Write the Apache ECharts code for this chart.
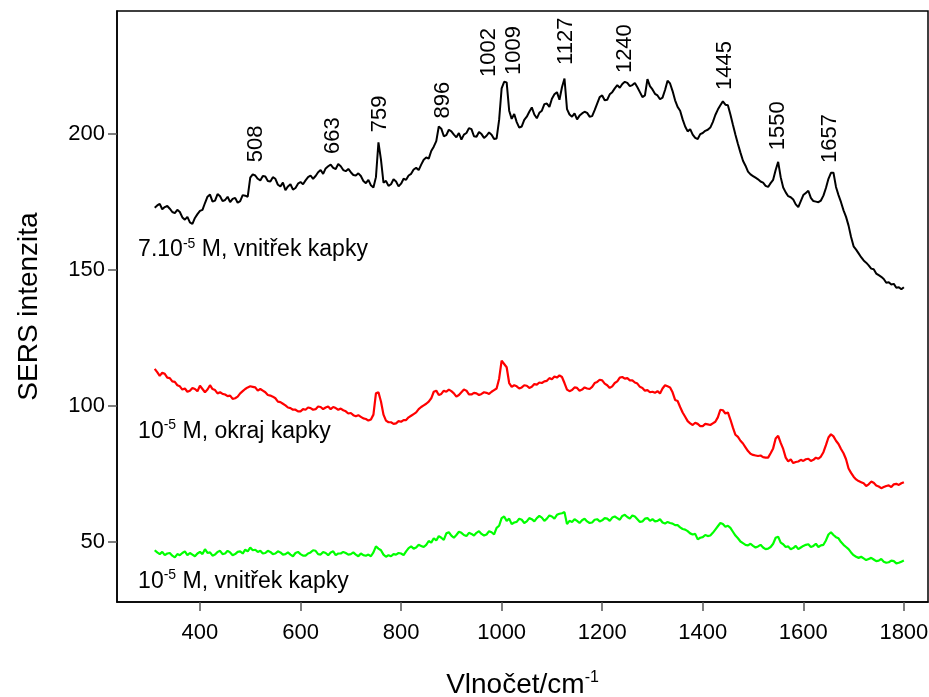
<!DOCTYPE html>
<html>
<head>
<meta charset="utf-8">
<title>SERS spektra</title>
<script src="https://cdn.jsdelivr.net/npm/echarts@6/dist/echarts.min.js"></script>
<style>
  html,body{margin:0;padding:0;background:#fff;}
  #main{width:929px;height:697px;}
</style>
</head>
<body>
<div id="main"></div>
<script>
// spektra odečtená po 5 cm-1 od 310 do 1800
var startWave = 310, stepWave = 5;

var blackInner = [
  172.8, 173.6, 174.2, 172.2, 173.0, 173.4, 172.4, 171.2, 170.8, 172.0, 171.2, 169.2, 168.4, 169.4, 167.4, 166.8, 169.0, 170.4, 171.6, 172.0,
  174.5, 176.8, 177.6, 175.0, 175.4, 177.8, 177.0, 175.2, 175.6, 176.8, 174.8, 176.0, 176.4, 174.6, 175.2, 177.4, 177.2, 176.8, 183.8, 185.0,
  184.6, 183.4, 182.8, 184.4, 184.2, 182.6, 182.4, 184.0, 183.4, 181.2, 180.6, 182.0, 179.2, 180.6, 181.4, 179.4, 180.0, 181.6, 182.2, 181.4,
  182.8, 184.0, 184.6, 183.4, 184.4, 185.8, 186.6, 185.2, 187.2, 188.0, 188.6, 187.4, 187.0, 188.8, 188.0, 186.6, 186.2, 187.0, 185.8, 184.8,
  184.6, 185.4, 184.4, 182.6, 181.8, 183.0, 181.0, 180.2, 184.0, 196.8, 190.4, 182.0, 182.6, 180.8, 181.4, 183.2, 182.4, 180.6, 181.6, 183.4,
  183.0, 184.6, 185.2, 186.8, 187.4, 186.6, 188.6, 190.4, 191.2, 190.8, 193.6, 195.2, 197.2, 202.6, 201.8, 199.0, 199.4, 201.4, 200.8, 199.6,
  198.6, 200.2, 197.8, 199.6, 200.2, 202.0, 201.6, 199.0, 198.8, 200.6, 199.8, 198.4, 199.2, 200.4, 199.6, 198.0, 198.2, 205.0, 216.6, 219.0,
  218.8, 208.4, 205.4, 207.2, 204.2, 202.2, 202.6, 205.0, 206.2, 208.0, 209.6, 207.0, 205.6, 207.6, 208.4, 210.8, 211.0, 209.8, 212.8, 214.4,
  215.2, 212.4, 217.0, 220.2, 209.0, 207.0, 206.2, 207.4, 205.2, 206.6, 207.4, 208.0, 207.6, 206.2, 206.4, 208.6, 211.0, 213.4, 214.0, 212.2,
  212.4, 214.4, 215.2, 216.6, 217.8, 216.8, 218.2, 219.0, 218.6, 217.4, 217.8, 218.6, 217.0, 215.2, 213.4, 214.0, 220.0, 217.4, 216.2, 214.6,
  214.0, 212.6, 213.2, 216.0, 219.4, 218.4, 215.6, 212.2, 209.8, 208.4, 205.2, 202.6, 200.8, 201.6, 199.6, 198.4, 198.0, 199.8, 200.2, 201.0,
  201.4, 202.2, 204.2, 206.8, 208.8, 210.4, 211.8, 210.6, 210.4, 207.0, 203.2, 199.6, 196.2, 193.0, 190.0, 188.2, 186.0, 185.0, 184.4, 183.8,
  183.2, 182.4, 182.0, 180.8, 180.4, 181.8, 183.0, 186.6, 189.6, 184.0, 180.2, 178.4, 177.0, 176.6, 175.8, 174.0, 173.0, 175.2, 177.4, 178.2,
  179.0, 176.4, 175.2, 175.0, 174.8, 175.4, 177.2, 180.0, 183.4, 185.6, 185.6, 180.4, 177.4, 174.8, 171.8, 169.4, 166.2, 162.0, 158.6, 157.4,
  156.0, 154.6, 153.4, 152.6, 151.6, 150.4, 150.2, 148.6, 148.0, 147.4, 146.6, 145.2, 145.4, 144.6, 144.8, 143.4, 143.6, 142.8, 143.6
];

var redEdge = [
  113.6, 112.4, 111.0, 112.2, 111.8, 110.4, 110.2, 109.0, 108.8, 107.6, 107.2, 106.0, 106.4, 105.2, 105.6, 106.6, 106.2, 105.4, 107.4, 106.2,
  105.0, 106.0, 107.6, 106.2, 105.8, 104.6, 105.0, 104.4, 104.2, 103.6, 103.8, 102.6, 102.8, 103.4, 104.6, 105.4, 106.2, 106.8, 107.2, 107.0,
  106.8, 105.6, 106.2, 105.6, 105.0, 104.0, 103.8, 103.4, 102.8, 101.6, 101.4, 100.8, 100.2, 99.4, 99.2, 98.6, 98.6, 98.0, 98.0, 98.8,
  98.6, 99.4, 99.2, 98.6, 98.8, 99.8, 99.6, 98.8, 99.4, 99.8, 98.8, 99.6, 99.2, 98.6, 99.0, 98.4, 98.0, 97.2, 97.4, 96.6,
  96.2, 96.6, 96.0, 95.4, 95.2, 94.6, 95.0, 96.8, 104.6, 105.0, 101.6, 96.8, 94.6, 94.0, 94.0, 93.4, 93.6, 94.4, 94.2, 94.8,
  94.8, 95.8, 96.4, 97.0, 97.6, 98.8, 99.6, 100.2, 100.8, 101.6, 102.8, 105.2, 105.6, 104.0, 104.4, 105.6, 105.2, 106.0, 105.4, 104.6,
  103.4, 104.0, 105.0, 106.0, 105.6, 104.2, 104.2, 104.8, 104.6, 104.0, 104.4, 105.0, 104.8, 104.4, 105.2, 105.8, 106.4, 110.0, 116.6, 115.4,
  114.2, 108.4, 107.0, 107.6, 107.2, 106.4, 106.8, 107.6, 107.4, 106.6, 107.0, 108.0, 107.8, 108.6, 108.4, 109.0, 109.2, 110.2, 109.8, 110.8,
  110.4, 111.2, 110.6, 108.4, 106.0, 105.4, 105.8, 106.8, 106.6, 105.6, 106.0, 106.8, 106.4, 106.2, 107.0, 108.4, 108.8, 109.6, 109.4, 108.2,
  107.6, 106.6, 107.2, 108.4, 109.0, 110.4, 110.6, 110.0, 110.2, 109.4, 109.4, 108.6, 108.2, 107.0, 106.6, 105.6, 105.8, 105.0, 105.2, 104.8,
  105.4, 104.6, 106.4, 107.6, 107.2, 106.8, 105.0, 102.2, 101.8, 99.6, 97.6, 96.0, 94.4, 93.6, 93.0, 93.8, 93.4, 92.6, 92.6, 93.4,
  93.2, 93.0, 93.6, 94.2, 95.8, 98.6, 98.4, 97.2, 97.6, 95.0, 92.0, 89.4, 88.6, 87.2, 86.2, 84.8, 83.4, 82.4, 82.0, 81.8,
  81.6, 81.8, 81.2, 81.0, 81.0, 82.6, 84.4, 88.0, 89.0, 86.4, 84.2, 81.0, 79.6, 80.4, 79.0, 79.4, 79.6, 80.2, 79.8, 80.4,
  80.6, 79.8, 80.2, 81.0, 80.6, 81.4, 83.0, 85.6, 88.4, 89.6, 88.8, 87.2, 86.0, 84.2, 82.6, 80.4, 77.0, 75.4, 74.0, 73.0,
  72.4, 72.0, 71.6, 70.6, 71.2, 72.2, 71.8, 70.8, 70.4, 69.8, 70.2, 70.6, 70.8, 70.2, 71.2, 71.4, 71.0, 71.6, 72.0
];

var greenInner = [
  47.0, 46.2, 45.6, 46.4, 45.2, 45.8, 46.0, 45.0, 44.4, 45.6, 45.2, 46.0, 46.6, 45.2, 46.0, 45.4, 44.8, 45.8, 46.4, 45.6,
  47.4, 46.0, 46.2, 45.0, 45.4, 46.4, 46.8, 45.6, 45.8, 46.8, 46.2, 45.2, 45.6, 46.4, 46.6, 45.8, 47.2, 46.6, 48.0, 47.0,
  47.2, 46.4, 46.8, 45.8, 46.0, 46.8, 46.4, 45.6, 45.8, 46.6, 46.2, 45.4, 45.6, 46.2, 45.4, 44.8, 46.0, 46.4, 45.6, 45.0,
  45.0, 45.8, 46.2, 47.0, 46.8, 45.6, 45.4, 46.4, 46.0, 45.2, 46.2, 46.6, 45.2, 45.8, 45.8, 46.4, 46.0, 45.4, 45.6, 46.2,
  45.4, 44.8, 45.8, 45.2, 45.0, 45.4, 44.8, 46.2, 48.4, 47.6, 47.0, 45.4, 44.6, 45.2, 44.8, 45.6, 45.4, 46.0, 45.8, 45.2,
  46.6, 47.8, 48.4, 47.6, 48.0, 49.0, 48.6, 48.2, 49.0, 50.4, 49.8, 51.4, 50.6, 52.2, 51.6, 50.8, 53.2, 53.6, 52.4, 51.6,
  52.6, 53.8, 53.4, 52.6, 52.2, 53.4, 53.0, 52.4, 53.4, 54.0, 53.0, 52.4, 52.8, 54.0, 53.6, 52.8, 55.2, 56.0, 58.8, 59.4,
  57.8, 58.6, 56.6, 57.2, 57.4, 58.6, 58.2, 57.0, 57.6, 58.8, 58.4, 57.6, 58.8, 59.6, 59.0, 57.8, 58.6, 59.8, 59.4, 58.6,
  60.0, 60.4, 60.6, 61.0, 56.6, 57.8, 57.4, 58.4, 57.8, 57.0, 58.0, 58.6, 57.6, 57.0, 57.2, 58.2, 58.4, 57.6, 58.0, 58.8,
  58.6, 57.8, 59.0, 59.4, 58.8, 58.2, 59.6, 60.0, 59.2, 58.6, 59.8, 59.4, 58.4, 57.4, 57.6, 58.6, 58.8, 57.8, 58.4, 57.6,
  57.8, 58.4, 57.2, 56.8, 57.4, 57.0, 56.8, 56.2, 56.2, 55.4, 54.8, 54.6, 54.0, 53.2, 52.8, 53.0, 51.0, 51.6, 51.8, 52.6,
  52.2, 52.4, 53.4, 54.6, 55.8, 57.0, 56.6, 55.6, 56.0, 55.2, 53.8, 52.4, 51.4, 50.2, 49.6, 49.0, 48.8, 49.4, 48.6, 48.0,
  48.4, 49.0, 48.0, 47.4, 47.6, 48.2, 49.4, 51.6, 52.0, 49.8, 49.2, 48.2, 48.4, 47.4, 47.8, 48.6, 47.4, 48.0, 48.6, 49.0,
  49.2, 48.2, 48.6, 49.4, 48.2, 48.8, 49.0, 50.6, 52.8, 53.6, 52.6, 51.8, 51.4, 50.0, 49.0, 48.2, 47.4, 46.2, 45.2, 44.6,
  44.2, 44.6, 44.0, 43.4, 43.8, 44.2, 43.6, 43.0, 43.2, 43.8, 42.8, 42.4, 42.6, 43.2, 43.0, 42.2, 42.4, 42.8, 43.2
];

var xTicks = [400, 600, 800, 1000, 1200, 1400, 1600, 1800];
var yTicks = [50, 100, 150, 200];

// popisky píků: [vlnočet, intenzita spodku textu, text]
var peakLabels = [
  [511, 189.5, '508'], [664, 192.5, '663'], [758, 200.5, '759'], [883, 205.5, '896'],
  [975, 220.8, '1002'], [1024, 221.5, '1009'], [1128, 225.2, '1127'], [1245, 222.2, '1240'],
  [1445, 216.0, '1445'], [1549, 193.9, '1550'], [1653, 189.2, '1657']
];

// popisky křivek: [vlnočet, intenzita, základ, exponent, zbytek]
var curveLabels = [
  [277, 157.2, '7.10', '-5', ' M, vnitřek kapky'],
  [277, 90.6, '10', '-5', ' M, okraj kapky'],
  [277, 35.5, '10', '-5', ' M, vnitřek kapky']
];

function toPairs(arr){
  var out = [];
  for (var i = 0; i < arr.length; i++) out.push([startWave + i * stepWave, arr[i]]);
  return out;
}

var font = 'Liberation Sans, Arial, sans-serif';
var myChart = echarts.init(document.getElementById('main'));
var option = {
  animation: false,
  backgroundColor: '#fff',
  grid: { left: 117, right: 1, top: 11, bottom: 95, containLabel: false, outerBoundsMode: 'none',
    show: true, borderColor: '#000', borderWidth: 1.5 },
  xAxis: {
    type: 'value', min: 235, max: 1848,
    name: '{a|Vlnočet/cm}{s|-1}', nameLocation: 'middle', nameGap: 68,
    nameTextStyle: { rich: {
      a: { fontFamily: font, fontSize: 28, color: '#000', lineHeight: 30 },
      s: { fontFamily: font, fontSize: 16, color: '#000', verticalAlign: 'top', lineHeight: 30, padding: [0, 0, 15, 0] }
    } },
    axisLine: { lineStyle: { color: '#000', width: 1.5 } },
    axisTick: { show: true, inside: false, length: 9, customValues: xTicks, lineStyle: { color: '#555', width: 1.5 } },
    axisLabel: { customValues: xTicks, fontFamily: font, fontSize: 22, color: '#000', margin: 20,
      formatter: function(v){ return String(v); } },
    splitLine: { show: false }
  },
  yAxis: {
    type: 'value', min: 28, max: 245,
    name: 'SERS intenzita', nameLocation: 'middle', nameGap: 74,
    nameTextStyle: { fontFamily: font, fontSize: 28, color: '#000' },
    axisLine: { show: true, lineStyle: { color: '#000', width: 1.5 } },
    axisTick: { show: true, inside: false, length: 9, customValues: yTicks, lineStyle: { color: '#555', width: 1.5 } },
    axisLabel: { customValues: yTicks, fontFamily: font, fontSize: 22, color: '#000', margin: 12,
      formatter: function(v){ return String(v); } },
    splitLine: { show: false }
  },
  series: [
    { name: '7.10-5 M, vnitřek kapky', type: 'line', data: toPairs(blackInner), showSymbol: false,
      lineStyle: { color: '#000', width: 2 }, itemStyle: { color: '#000' } },
    { name: '10-5 M, okraj kapky', type: 'line', data: toPairs(redEdge), showSymbol: false,
      lineStyle: { color: '#ff0000', width: 2.2 }, itemStyle: { color: '#ff0000' } },
    { name: '10-5 M, vnitřek kapky', type: 'line', data: toPairs(greenInner), showSymbol: false,
      lineStyle: { color: '#00ff00', width: 2.2 }, itemStyle: { color: '#00ff00' } },
    { name: 'peaks', type: 'scatter', data: peakLabels, symbolSize: 0, silent: true,
      itemStyle: { opacity: 1 },
      label: { show: true, position: [0, 0], rotate: 90, align: 'left', verticalAlign: 'middle',
        fontFamily: font, fontSize: 22, color: '#000', opacity: 1,
        formatter: function(p){ return p.data[2]; } } },
    { name: 'curves', type: 'scatter', data: curveLabels, symbolSize: 0, silent: true,
      itemStyle: { opacity: 1 },
      label: { show: true, position: [0, 0], align: 'left', verticalAlign: 'middle', opacity: 1,
        formatter: function(p){ return '{a|' + p.data[2] + '}{s|' + p.data[3] + '}{a|' + p.data[4] + '}'; },
        rich: {
          a: { fontFamily: font, fontSize: 23, color: '#000', lineHeight: 26 },
          s: { fontFamily: font, fontSize: 14, color: '#000', verticalAlign: 'top', lineHeight: 26, padding: [0, 0, 12, 0] }
        } } }
  ]
};
myChart.setOption(option);
</script>
</body>
</html>
